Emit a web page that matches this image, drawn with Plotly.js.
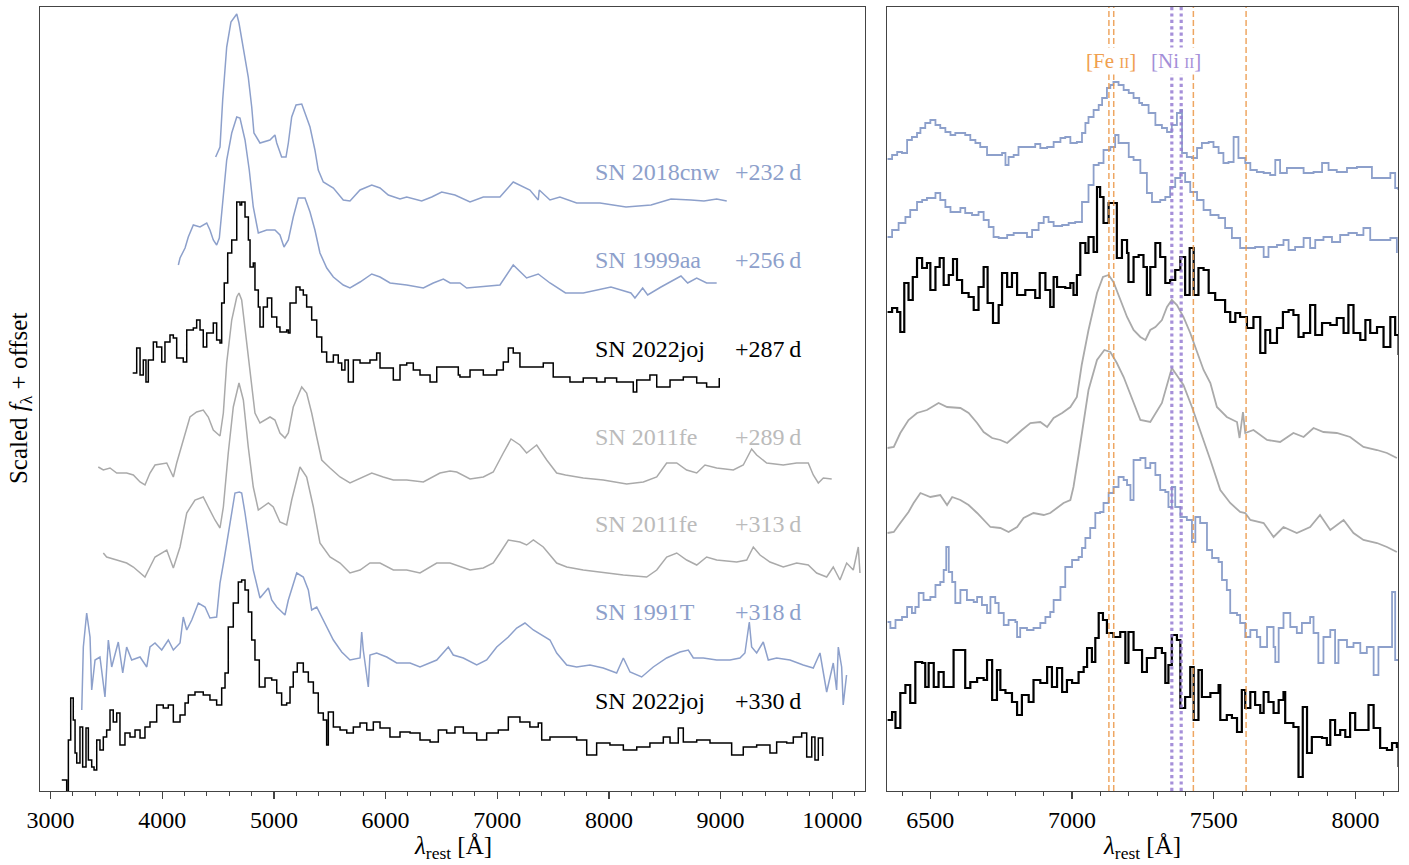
<!DOCTYPE html>
<html><head><meta charset="utf-8">
<script src="https://cdn.plot.ly/plotly-3.0.1.min.js"></script>
<style>html,body{margin:0;padding:0;background:#fff}#chart{width:1409px;height:865px}</style>
</head><body><div id="chart"></div>
<script>
// ---------------- Full-range spectra (left panel): rest wavelength [Å], scaled flux + offset
const wl_2018cnw = [4478,4517,4541,4577,4615,4667,4687,4726,4770,4801,4821,4875,4964,5009,5025,5069,5108,5129,5159,5198,5249,5278,5323,5367,5397,5442,5532,5621,5681,5771,5876,5950,6024,6129,6189,6323,6413,6502,6621,6756,6875,7024,7143,7292,7367,7376,7472,7561,7711,7920,8153,8377,8556,8735,8851,8965,9055];
const fl_2018cnw = [6.34,6.44,6.91,7.44,7.69,7.77,7.68,7.44,7.14,6.84,6.58,6.48,6.51,6.56,6.48,6.34,6.34,6.48,6.74,6.86,6.87,6.78,6.64,6.41,6.21,6.09,6.03,5.91,5.90,6.01,6.06,6.03,5.96,5.92,5.94,5.90,5.94,5.99,5.96,5.89,5.94,5.94,6.09,6.01,5.91,6.01,5.91,5.94,5.88,5.88,5.84,5.86,5.92,5.91,5.90,5.92,5.90];

const wl_1999aa = [4144,4159,4204,4233,4278,4338,4398,4427,4457,4487,4511,4541,4577,4622,4667,4696,4741,4779,4815,4860,4935,5009,5054,5090,5129,5173,5218,5278,5323,5367,5412,5473,5532,5621,5681,5771,5876,5950,6040,6189,6338,6427,6517,6578,6666,6726,6905,7024,7143,7263,7367,7472,7611,7770,8018,8197,8233,8302,8347,8466,8645,8705,8786,8875,8965];
const fl_1999aa = [5.26,5.33,5.43,5.54,5.66,5.64,5.68,5.61,5.51,5.46,5.53,5.91,6.31,6.58,6.74,6.73,6.51,6.21,5.84,5.58,5.61,5.61,5.56,5.44,5.51,5.74,5.93,5.93,5.79,5.61,5.38,5.23,5.14,5.06,5.03,5.09,5.17,5.14,5.08,5.06,5.03,5.08,5.12,5.08,5.08,5.03,5.05,5.06,5.26,5.13,5.17,5.08,4.98,4.98,5.04,4.98,4.93,5.03,4.96,5.04,5.15,5.08,5.13,5.08,5.08];

const wl_2022joj_287 = [3735,3771,3801,3830,3854,3875,3920,3950,3995,4024,4069,4099,4129,4188,4219,4278,4308,4338,4367,4398,4457,4487,4517,4532,4555,4586,4622,4667,4696,4711,4741,4771,4786,4815,4830,4860,4875,4905,4941,4980,5025,5054,5114,5129,5144,5198,5233,5263,5293,5338,5383,5428,5472,5532,5576,5607,5636,5666,5711,5771,5860,5920,5950,6069,6129,6189,6248,6308,6398,6458,6547,6577,6651,6666,6756,6875,6995,7054,7099,7143,7203,7292,7412,7501,7651,7770,7890,7965,8069,8218,8249,8367,8428,8547,8666,8786,8875,8988];
const fl_2022joj_287 = [4.18,4.43,4.16,4.31,4.09,4.31,4.49,4.44,4.29,4.49,4.56,4.53,4.33,4.29,4.61,4.63,4.71,4.61,4.44,4.58,4.68,4.51,4.48,4.88,5.08,5.38,5.51,5.89,5.86,5.89,5.74,5.51,5.24,5.28,5.01,4.84,4.64,4.84,4.93,4.74,4.64,4.59,4.61,4.58,4.88,5.04,5.01,4.96,4.84,4.71,4.54,4.39,4.29,4.36,4.28,4.21,4.31,4.09,4.31,4.28,4.31,4.38,4.23,4.11,4.26,4.28,4.21,4.16,4.09,4.24,4.24,4.24,4.16,4.14,4.21,4.16,4.21,4.29,4.43,4.38,4.24,4.24,4.28,4.14,4.09,4.13,4.09,4.13,4.09,3.99,4.11,4.16,4.04,4.11,4.14,4.08,4.04,4.13];

const wl_2011fe_289 = [3427,3472,3532,3592,3681,3741,3801,3845,3890,3935,4040,4069,4099,4129,4188,4248,4308,4367,4412,4457,4517,4547,4577,4622,4667,4687,4711,4741,4786,4830,4875,4965,5009,5054,5099,5129,5173,5249,5293,5338,5383,5428,5502,5592,5681,5771,5876,5979,6069,6189,6338,6487,6577,6637,6756,6875,6964,7054,7123,7203,7263,7353,7443,7532,7611,7770,7949,8159,8308,8428,8517,8607,8696,8786,8860,8965,9114,9203,9278,9323,9413,9561,9681,9785,9830,9875,9920,9995];
const fl_2011fe_289 = [3.24,3.21,3.23,3.18,3.18,3.16,3.09,3.06,3.18,3.26,3.28,3.21,3.14,3.28,3.51,3.74,3.79,3.81,3.74,3.61,3.55,3.78,4.28,4.71,4.94,4.98,4.91,4.61,4.18,3.78,3.68,3.74,3.71,3.58,3.53,3.58,3.84,4.04,3.98,3.78,3.54,3.31,3.23,3.14,3.08,3.13,3.18,3.14,3.11,3.11,3.09,3.18,3.20,3.19,3.12,3.14,3.19,3.38,3.52,3.46,3.38,3.46,3.31,3.18,3.16,3.13,3.11,3.07,3.09,3.14,3.28,3.28,3.21,3.18,3.26,3.23,3.21,3.26,3.42,3.36,3.28,3.26,3.28,3.28,3.16,3.08,3.13,3.12];

const wl_2011fe_313 = [3472,3502,3592,3681,3741,3801,3845,3890,3935,4040,4099,4159,4219,4293,4367,4412,4472,4517,4547,4591,4636,4687,4726,4770,4815,4860,4950,4994,5054,5114,5159,5233,5293,5353,5412,5502,5592,5681,5771,5860,5950,6069,6189,6308,6458,6577,6756,6875,6964,7024,7099,7203,7263,7323,7412,7532,7622,7770,7920,8129,8338,8428,8517,8607,8696,8786,8875,8965,9144,9234,9293,9353,9442,9561,9681,9785,9860,9950,10009,10069,10129,10188,10233,10248];
const fl_2011fe_313 = [2.38,2.34,2.31,2.28,2.24,2.18,2.14,2.24,2.34,2.41,2.23,2.44,2.78,2.91,2.94,2.84,2.71,2.63,2.84,3.38,3.84,4.08,3.91,3.44,3.04,2.81,2.88,2.84,2.69,2.66,2.91,3.24,3.14,2.84,2.48,2.34,2.28,2.18,2.21,2.28,2.28,2.21,2.21,2.18,2.28,2.28,2.21,2.23,2.28,2.38,2.51,2.49,2.46,2.51,2.44,2.28,2.24,2.21,2.19,2.16,2.14,2.21,2.34,2.38,2.31,2.26,2.34,2.31,2.29,2.31,2.44,2.36,2.29,2.24,2.28,2.26,2.18,2.14,2.24,2.11,2.28,2.21,2.44,2.18];

const wl_1991T = [3279,3293,3323,3353,3368,3398,3442,3487,3517,3547,3606,3646,3681,3726,3801,3861,3890,3935,3995,4054,4099,4159,4188,4219,4264,4323,4383,4427,4487,4517,4553,4622,4651,4690,4711,4741,4786,4815,4875,4950,4980,5025,5099,5129,5204,5263,5308,5338,5383,5442,5532,5607,5681,5771,5786,5800,5845,5860,5920,6010,6099,6219,6308,6458,6562,6606,6696,6816,6905,6995,7099,7174,7248,7323,7398,7472,7532,7622,7711,7830,7949,8069,8129,8189,8293,8397,8517,8636,8711,8756,8845,8965,9084,9173,9218,9257,9278,9323,9382,9427,9502,9621,9740,9830,9890,9950,10009,10039,10054,10084,10098,10128];
const fl_1991T = [0.81,1.44,1.78,1.54,1.01,1.31,1.34,0.94,1.51,1.24,1.49,1.18,1.44,1.31,1.34,1.24,1.44,1.48,1.41,1.51,1.41,1.48,1.74,1.61,1.71,1.88,1.84,1.73,1.74,2.08,2.31,2.78,2.98,2.99,2.98,2.78,2.41,2.21,1.93,2.03,1.91,1.84,1.76,1.91,2.18,2.14,2.01,1.81,1.84,1.71,1.51,1.39,1.31,1.33,1.59,1.41,1.04,1.36,1.38,1.34,1.28,1.28,1.24,1.31,1.44,1.36,1.33,1.26,1.31,1.44,1.54,1.63,1.68,1.61,1.56,1.51,1.38,1.26,1.24,1.26,1.23,1.18,1.33,1.19,1.14,1.24,1.33,1.39,1.41,1.33,1.33,1.31,1.31,1.33,1.38,1.69,1.44,1.38,1.49,1.31,1.33,1.31,1.26,1.23,1.38,0.99,1.28,1.01,1.44,1.24,0.86,1.16];

const wl_2022joj_330 = [3100,3140,3144,3159,3180,3203,3219,3234,3263,3287,3317,3338,3368,3389,3413,3442,3472,3502,3532,3561,3592,3621,3666,3711,3756,3801,3845,3890,3950,4009,4054,4099,4159,4204,4233,4293,4367,4427,4487,4532,4562,4591,4636,4681,4711,4741,4771,4801,4830,4869,4920,4980,5025,5069,5114,5144,5173,5209,5263,5308,5353,5397,5442,5472,5487,5532,5592,5652,5711,5771,5831,5890,5950,6039,6129,6219,6308,6398,6472,6547,6621,6696,6816,6905,7009,7099,7203,7292,7367,7398,7472,7591,7711,7801,7890,8009,8129,8249,8367,8487,8547,8621,8666,8786,8905,9055,9099,9203,9323,9442,9502,9592,9651,9726,9771,9816,9845,9875,9914];
const fl_2022joj_330 = [0.11,0.11,-0.3,0.51,0.93,0.71,0.38,0.28,0.64,0.24,0.63,0.31,0.24,0.21,0.51,0.41,0.54,0.61,0.81,0.69,0.78,0.46,0.58,0.54,0.61,0.53,0.64,0.69,0.86,0.83,0.86,0.69,0.76,0.88,0.96,0.99,0.96,0.91,0.86,1.03,1.18,1.64,1.88,2.09,2.11,2.01,1.79,1.51,1.31,1.04,1.13,1.11,0.98,0.86,0.88,1.04,1.19,1.28,1.19,1.09,0.98,0.78,0.71,0.46,0.79,0.64,0.61,0.58,0.64,0.68,0.61,0.69,0.63,0.54,0.59,0.58,0.51,0.49,0.61,0.58,0.64,0.58,0.51,0.58,0.61,0.74,0.69,0.64,0.68,0.51,0.54,0.54,0.51,0.36,0.48,0.46,0.41,0.44,0.48,0.54,0.48,0.63,0.49,0.51,0.48,0.48,0.36,0.44,0.46,0.38,0.49,0.48,0.54,0.58,0.34,0.54,0.31,0.53,0.35];

// ---------------- Zoomed spectra (right panel), separately scaled
const zwl_2018cnw = [6349,6365,6383,6400,6418,6435,6453,6465,6482,6500,6518,6535,6553,6571,6588,6606,6623,6641,6659,6676,6700,6723,6753,6765,6776,6794,6811,6829,6853,6870,6888,6912,6935,6959,6976,6994,7017,7035,7047,7058,7076,7094,7106,7123,7135,7146,7164,7182,7200,7217,7237,7247,7270,7294,7317,7335,7352,7370,7382,7388,7405,7423,7441,7458,7482,7499,7517,7534,7552,7570,7587,7611,7629,7652,7676,7699,7717,7734,7758,7793,7817,7852,7882,7905,7934,7970,8005,8040,8058,8099,8123,8140,8151];
const zfl_2018cnw = [6.32,6.36,6.39,6.38,6.51,6.54,6.58,6.63,6.68,6.71,6.66,6.63,6.59,6.56,6.58,6.58,6.56,6.51,6.48,6.44,6.36,6.36,6.38,6.26,6.34,6.36,6.44,6.44,6.44,6.47,6.43,6.44,6.49,6.53,6.54,6.48,6.49,6.58,6.68,6.74,6.81,6.86,6.93,7.03,7.06,7.09,7.06,7.01,6.98,6.93,6.88,6.86,6.78,6.66,6.63,6.59,6.66,6.78,6.81,6.38,6.34,6.33,6.43,6.48,6.49,6.44,6.38,6.28,6.29,6.54,6.33,6.28,6.21,6.19,6.18,6.16,6.31,6.18,6.23,6.23,6.18,6.19,6.28,6.21,6.19,6.23,6.24,6.24,6.13,6.13,6.18,6.03,6.01];

const zwl_1999aa = [6349,6365,6388,6412,6429,6453,6471,6488,6518,6535,6553,6571,6606,6623,6647,6670,6688,6706,6723,6741,6771,6794,6823,6841,6859,6882,6900,6917,6935,6965,6988,7011,7035,7058,7076,7094,7111,7135,7152,7164,7182,7200,7217,7241,7264,7282,7311,7329,7346,7364,7382,7399,7417,7441,7464,7488,7517,7540,7564,7593,7623,7646,7676,7693,7723,7746,7764,7787,7817,7840,7858,7887,7917,7946,7975,8005,8028,8052,8087,8123,8146];
const zfl_1999aa = [5.54,5.61,5.68,5.74,5.81,5.89,5.91,5.93,5.98,5.91,5.84,5.79,5.83,5.78,5.76,5.79,5.71,5.64,5.54,5.53,5.56,5.58,5.58,5.54,5.61,5.68,5.74,5.69,5.65,5.66,5.68,5.69,5.89,6.06,6.26,6.28,6.41,6.44,6.56,6.48,6.48,6.34,6.31,6.18,5.98,5.89,5.91,5.94,6.04,6.13,6.18,6.09,5.99,5.91,5.81,5.76,5.73,5.63,5.53,5.43,5.43,5.44,5.34,5.44,5.46,5.51,5.41,5.44,5.53,5.43,5.51,5.54,5.49,5.56,5.58,5.56,5.63,5.51,5.51,5.53,5.38];

const zwl_2022joj_287 = [6349,6365,6383,6394,6408,6423,6438,6453,6471,6488,6500,6518,6533,6547,6565,6580,6594,6612,6635,6653,6670,6688,6702,6721,6741,6753,6771,6788,6806,6835,6870,6886,6906,6923,6935,6947,6976,6994,7005,7017,7029,7047,7058,7076,7088,7099,7111,7129,7146,7158,7176,7194,7199,7217,7235,7252,7264,7276,7294,7311,7329,7346,7364,7382,7399,7415,7429,7446,7464,7482,7505,7523,7540,7558,7576,7593,7617,7640,7664,7682,7699,7723,7744,7764,7781,7799,7817,7840,7858,7882,7911,7934,7958,7975,7993,8017,8035,8052,8076,8099,8123,8140,8152];
const zfl_2022joj_287 = [4.79,4.83,4.79,4.59,5.08,4.91,5.14,5.33,5.23,5.28,5.01,5.24,5.33,5.06,5.16,5.32,5.11,4.98,4.94,4.81,5.04,5.24,4.88,4.68,4.86,5.18,5.04,5.18,4.96,5.01,4.93,5.18,5.01,4.84,5.14,5.04,5.03,5.08,4.96,5.16,5.48,5.38,5.54,5.39,6.04,5.94,5.68,5.88,5.88,5.33,5.51,5.38,5.09,5.34,5.36,5.24,4.96,5.24,5.48,5.34,5.08,5.11,5.21,5.34,4.96,5.43,4.96,5.23,5.21,4.98,4.91,4.91,4.79,4.69,4.78,4.74,4.63,4.74,4.38,4.61,4.48,4.63,4.79,4.81,4.76,4.54,4.58,4.86,4.56,4.68,4.66,4.73,4.58,4.86,4.58,4.51,4.71,4.58,4.64,4.44,4.74,4.56,4.36];

const zwl_2011fe_289 = [6349,6371,6394,6423,6453,6488,6529,6559,6606,6635,6665,6688,6718,6747,6771,6794,6823,6853,6888,6912,6935,6965,6994,7017,7024,7034,7058,7088,7109,7129,7146,7170,7194,7217,7241,7259,7276,7294,7317,7335,7352,7370,7393,7417,7441,7464,7488,7511,7546,7582,7591,7603,7611,7640,7688,7734,7781,7817,7852,7887,7934,7981,8028,8076,8111,8146];
const zfl_2011fe_289 = [3.43,3.44,3.58,3.71,3.78,3.81,3.88,3.84,3.83,3.78,3.68,3.59,3.53,3.51,3.48,3.54,3.61,3.68,3.69,3.64,3.73,3.78,3.84,3.94,4.06,4.26,4.61,4.98,5.14,5.16,5.09,4.91,4.74,4.61,4.54,4.51,4.61,4.64,4.71,4.84,4.91,4.86,4.74,4.58,4.38,4.21,4.08,3.84,3.74,3.69,3.53,3.79,3.58,3.61,3.51,3.49,3.58,3.54,3.63,3.59,3.58,3.54,3.44,3.41,3.38,3.33];

const zwl_2011fe_313 = [6349,6371,6394,6423,6441,6465,6500,6535,6559,6577,6606,6635,6665,6688,6712,6747,6776,6806,6829,6864,6900,6923,6947,6970,6994,7005,7023,7041,7058,7088,7114,7135,7158,7182,7206,7241,7276,7317,7352,7393,7423,7452,7488,7523,7558,7593,7611,7629,7676,7711,7746,7793,7840,7875,7911,7958,7993,8028,8076,8111,8146];
const zfl_2011fe_313 = [2.58,2.59,2.68,2.79,2.88,2.98,2.94,2.96,2.86,2.94,2.91,2.86,2.78,2.71,2.64,2.63,2.59,2.64,2.73,2.78,2.76,2.78,2.83,2.88,2.91,3.04,3.36,3.71,4.01,4.31,4.41,4.39,4.28,4.14,3.96,3.71,3.69,3.88,4.23,4.06,3.84,3.61,3.31,3.01,2.88,2.79,2.78,2.71,2.68,2.54,2.64,2.58,2.64,2.76,2.61,2.71,2.58,2.51,2.48,2.44,2.39];

const zwl_1991T = [6349,6359,6377,6400,6418,6435,6447,6459,6476,6500,6518,6535,6547,6556,6565,6577,6588,6606,6629,6653,6665,6682,6700,6712,6729,6741,6759,6776,6800,6806,6817,6841,6864,6888,6906,6923,6935,6959,6976,7000,7023,7035,7047,7064,7082,7099,7111,7129,7146,7164,7182,7194,7206,7217,7241,7259,7276,7294,7311,7329,7340,7352,7364,7382,7405,7423,7435,7452,7476,7494,7517,7529,7546,7558,7582,7593,7611,7629,7652,7664,7688,7711,7717,7729,7746,7770,7793,7811,7840,7852,7869,7887,7911,7928,7940,7970,7993,8017,8040,8064,8081,8105,8129,8140,8152];
const zfl_1991T = [1.69,1.63,1.71,1.74,1.84,1.78,1.84,1.98,1.91,1.94,2.06,2.09,2.21,2.44,2.19,2.09,1.88,2.01,1.91,1.89,1.94,1.86,1.78,1.94,1.88,1.78,1.66,1.71,1.69,1.54,1.63,1.61,1.63,1.68,1.74,1.79,1.91,2.04,2.24,2.31,2.34,2.43,2.53,2.63,2.78,2.79,2.88,2.98,3.04,3.14,3.11,3.06,2.91,3.31,3.33,3.23,3.28,3.16,3.01,2.99,2.84,3.04,2.84,2.74,2.71,2.49,2.74,2.68,2.41,2.33,2.29,2.11,2.01,1.78,1.76,1.68,1.54,1.61,1.54,1.44,1.64,1.44,1.29,1.63,1.78,1.64,1.58,1.68,1.74,1.58,1.28,1.54,1.61,1.28,1.51,1.44,1.48,1.38,1.44,1.16,1.44,1.44,1.99,1.31,1.31];

const zwl_2022joj_330 = [6349,6365,6377,6394,6412,6429,6447,6471,6482,6494,6512,6529,6547,6565,6582,6606,6623,6641,6665,6688,6700,6718,6735,6747,6765,6788,6806,6823,6847,6864,6888,6912,6929,6947,6965,6982,7000,7023,7041,7053,7070,7082,7094,7109,7123,7146,7170,7188,7199,7217,7247,7264,7294,7317,7329,7340,7352,7370,7382,7399,7417,7429,7446,7458,7488,7517,7523,7546,7564,7582,7599,7611,7629,7646,7664,7676,7693,7711,7729,7746,7752,7781,7799,7814,7829,7846,7882,7899,7911,7928,7946,7964,7981,7999,8028,8046,8064,8087,8111,8129,8146,8152];
const zfl_2022joj_330 = [0.71,0.79,0.63,0.98,1.06,0.88,1.29,1.28,1.04,1.28,1.04,1.19,1.04,1.04,1.41,1.41,1.03,1.09,1.13,1.11,1.31,0.91,1.21,1.01,0.98,0.89,0.76,0.96,0.89,1.11,1.08,1.24,1.04,1.23,0.99,1.11,1.08,1.19,1.24,1.43,1.29,1.53,1.78,1.71,1.58,1.54,1.59,1.28,1.59,1.41,1.19,1.33,1.43,1.38,1.08,1.26,1.56,1.51,0.83,0.94,1.24,0.71,1.21,0.94,0.98,1.06,0.71,0.76,0.73,0.59,1.01,0.83,0.99,0.86,0.78,0.99,0.89,0.78,0.91,0.99,0.68,0.64,0.14,0.84,0.38,0.54,0.53,0.46,0.71,0.56,0.61,0.54,0.78,0.61,0.61,0.86,0.63,0.43,0.41,0.48,0.44,0.24];

// ---------------- Labels and ticks
const snNames = ['SN 2018cnw','SN 1999aa','SN 2022joj','SN 2011fe','SN 2011fe','SN 1991T','SN 2022joj'];
const snPhases = ['+232\u2009d','+256\u2009d','+287\u2009d','+289\u2009d','+313\u2009d','+318\u2009d','+330\u2009d'];
const labelLevel = [6.19,5.31,4.42,3.54,2.67,1.79,0.90];
const feLines = [7130,7147,7428,7614];
const niLines = [7352,7385];
const leftTicks = [3000,4000,5000,6000,7000,8000,9000,10000];
const leftTickText = ['3000','4000','5000','6000','7000','8000','9000','10000'];
const rightTicks = [6500,7000,7500,8000];
const rightTickText = ['6500','7000','7500','8000'];

// ---------------- Styling
const BLUE = '#8da0cb', GRAY = '#aaaaaa', BLACK = '#000000';
const LBLUE = '#8da0cb', LGRAY = '#bbbbbb';
const FONT = 'Liberation Serif, Times New Roman, serif';
const kinds = ['blue','blue','black','gray','gray','blue','black'];
const lineCol = {blue: BLUE, gray: GRAY, black: BLACK};
const textCol = {blue: LBLUE, gray: LGRAY, black: BLACK};

const full = [[wl_2018cnw,fl_2018cnw],[wl_1999aa,fl_1999aa],[wl_2022joj_287,fl_2022joj_287],[wl_2011fe_289,fl_2011fe_289],[wl_2011fe_313,fl_2011fe_313],[wl_1991T,fl_1991T],[wl_2022joj_330,fl_2022joj_330]];
const zoom = [[zwl_2018cnw,zfl_2018cnw],[zwl_1999aa,zfl_1999aa],[zwl_2022joj_287,zfl_2022joj_287],[zwl_2011fe_289,zfl_2011fe_289],[zwl_2011fe_313,zfl_2011fe_313],[zwl_1991T,zfl_1991T],[zwl_2022joj_330,zfl_2022joj_330]];

const traces = [];
full.forEach((s,i) => {
  traces.push({x: s[0], y: s[1], type: 'scatter', mode: 'lines', xaxis: 'x', yaxis: 'y',
    line: {color: lineCol[kinds[i]], width: 1.5, shape: kinds[i]==='black' ? 'hv' : 'linear'},
    hoverinfo: 'skip', showlegend: false});
});
zoom.forEach((s,i) => {
  traces.push({x: s[0], y: s[1], type: 'scatter', mode: 'lines', xaxis: 'x2', yaxis: 'y2',
    line: {color: lineCol[kinds[i]], width: kinds[i]==='black' ? 2.2 : 1.8, shape: kinds[i]==='gray' ? 'linear' : 'hv'},
    hoverinfo: 'skip', showlegend: false});
});

const shapes = [];
feLines.forEach(w => shapes.push({type:'line', xref:'x2', yref:'y2 domain', x0:w, x1:w, y0:0, y1:1,
  line:{color:'rgba(235,150,70,0.85)', width:1.5, dash:'6px,3px'}, layer:'above'}));
niLines.forEach(w => shapes.push({type:'line', xref:'x2', yref:'y2 domain', x0:w, x1:w, y0:0, y1:1,
  line:{color:'rgba(150,125,210,0.85)', width:3.2, dash:'dot'}, layer:'above'}));

const annotations = [];
snNames.forEach((n,i) => {
  annotations.push({x:7854, y:labelLevel[i], xref:'x', yref:'y', text:n, showarrow:false, xanchor:'left', yanchor:'middle',
    font:{family:FONT, size:24, color:textCol[kinds[i]]}});
  annotations.push({x:9108, y:labelLevel[i], xref:'x', yref:'y', text:snPhases[i], showarrow:false, xanchor:'left', yanchor:'middle',
    font:{family:FONT, size:24, color:textCol[kinds[i]]}});
});
annotations.push({x:7138, y:7.3, xref:'x2', yref:'y2', text:'[Fe <span style="font-size:15px">II</span>]', showarrow:false,
  xanchor:'center', yanchor:'middle', bgcolor:'#ffffff', borderpad:1, font:{family:FONT, size:21, color:'#f0a050'}});
annotations.push({x:7368, y:7.3, xref:'x2', yref:'y2', text:'[Ni <span style="font-size:15px">II</span>]', showarrow:false,
  xanchor:'center', yanchor:'middle', bgcolor:'#ffffff', borderpad:1, font:{family:FONT, size:21, color:'#a48fd8'}});
annotations.push({x:0.3038, y:-0.0727, xref:'paper', yref:'paper', text:'<i>λ</i><sub>rest</sub> [Å]', showarrow:false,
  xanchor:'center', yanchor:'middle', font:{family:FONT, size:25, color:'#000'}});
annotations.push({x:0.8118, y:-0.0727, xref:'paper', yref:'paper', text:'<i>λ</i><sub>rest</sub> [Å]', showarrow:false,
  xanchor:'center', yanchor:'middle', font:{family:FONT, size:25, color:'#000'}});
annotations.push({x:-0.0147, y:0.5, xref:'paper', yref:'paper', text:'Scaled <i>f</i><sub>λ</sub> + offset', showarrow:false,
  textangle:-90, xanchor:'center', yanchor:'middle', font:{family:FONT, size:25, color:'#000'}});

const axBase = {showgrid:false, zeroline:false, showline:true, mirror:true, linecolor:'#444', linewidth:1.2,
  ticks:'outside', ticklen:7, tickwidth:1.2, tickcolor:'#444',
  tickfont:{family:FONT, size:24, color:'#000'}};

const layout = {
  width:1409, height:865, paper_bgcolor:'#fff', plot_bgcolor:'#fff',
  margin:{l:40, r:11, t:7, b:74},
  xaxis: Object.assign({}, axBase, {domain:[0,0.6075], range:[2905,10293], tickmode:'array',
    tickvals:leftTicks, ticktext:leftTickText,
    minor:{dtick:200, tick0:3000, ticks:'outside', ticklen:4, tickwidth:1, tickcolor:'#444'}}),
  xaxis2: Object.assign({}, axBase, {domain:[0.6237,1], range:[6347,8150], tickmode:'array',
    tickvals:rightTicks, ticktext:rightTickText,
    minor:{dtick:100, tick0:6500, ticks:'outside', ticklen:4, tickwidth:1, tickcolor:'#444'}}),
  yaxis: {domain:[0,1], range:[0,7.84], showticklabels:false, ticks:'', showgrid:false, zeroline:false,
    showline:true, mirror:true, linecolor:'#444', linewidth:1.2, anchor:'x'},
  yaxis2: {domain:[0,1], range:[0,7.84], showticklabels:false, ticks:'', showgrid:false, zeroline:false,
    showline:true, mirror:true, linecolor:'#444', linewidth:1.2, anchor:'x2'},
  shapes: shapes, annotations: annotations, showlegend:false
};

Plotly.newPlot('chart', traces, layout, {staticPlot:true, displayModeBar:false});
</script></body></html>
